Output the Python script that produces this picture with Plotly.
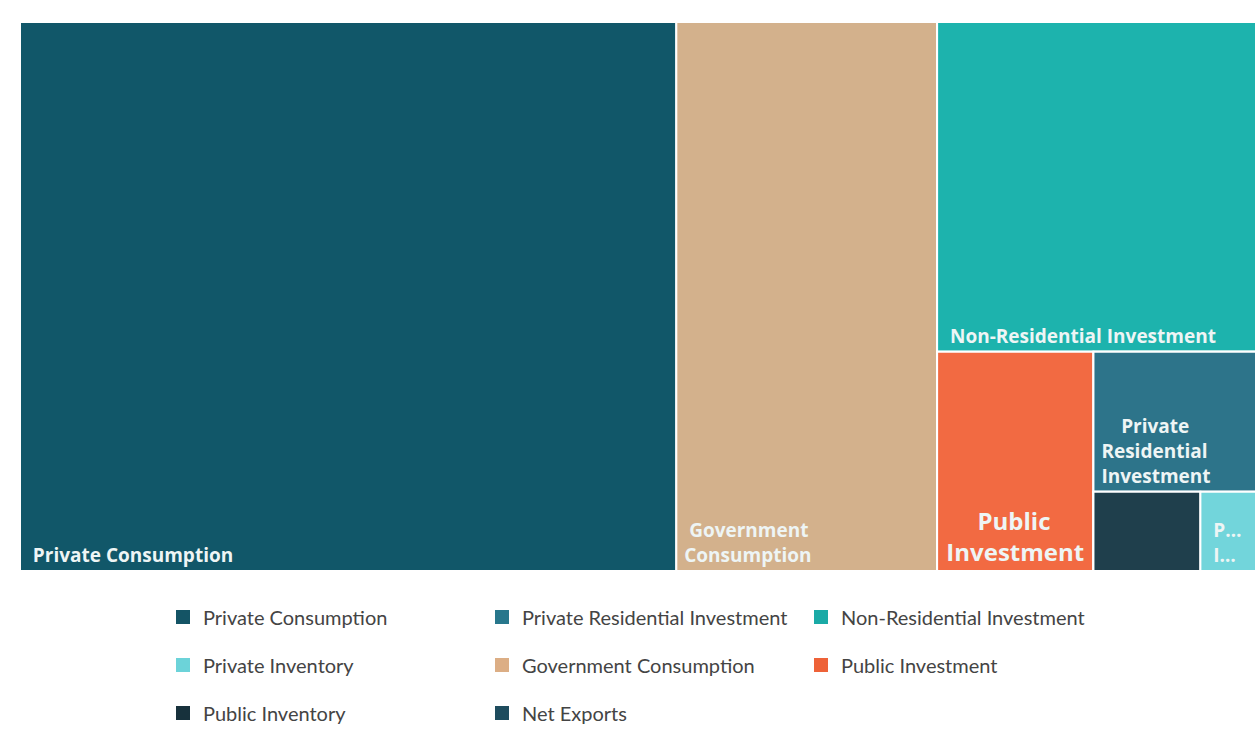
import plotly.graph_objects as go

# ---- data ----
sectors = ["Private Consumption", "Government Consumption", "Non-Residential Investment",
           "Public Investment", "Private Residential Investment", "Public Inventory",
           "Private Inventory"]
shares = [53.1, 21.1, 15.5, 5.05, 3.35, 1.25, 0.65]
NB = "\u00a0"
tile_text = [NB * 2 + "Private Consumption",
             NB * 2 + "Government<br>" + NB * 1 + "Consumption",
             NB * 2 + "Non-Residential Investment",
             NB * 6 + "Public<br>" + NB + "Investment",
             NB * 5 + "Private<br>" + NB + "Residential<br>" + NB + "Investment",
             "",
             NB * 2 + "P…<br>" + NB * 2 + "I…"]
tile_colors = ["#115769", "#d3b18c", "#1db3ad", "#f26a42", "#2d748a", "#1f3f4c", "#72d5db"]

# nesting used to reproduce the tile arrangement (invisible grouping nodes)
groups = ["g2", "g3", "g4", "g5"]
group_parents = ["", "g2", "g3", "g4"]
sector_parents = ["", "", "g2", "g3", "g4", "g5", "g5"]

legend_labels = ["Private Consumption", "Private Residential Investment", "Non-Residential Investment",
                 "Private Inventory", "Government Consumption", "Public Investment",
                 "Public Inventory", "Net Exports"]
legend_colors = ["#145465", "#28778c", "#1aaaa6", "#6cd3d9", "#dcae85", "#ee6238",
                 "#17313c", "#1e4c5e"]
legend_rows = ["legend", "legend", "legend", "legend2", "legend2", "legend2", "legend3", "legend3"]

# ---- figure ----
ids = sectors[:2] + ["g2"] + sectors[2:3] + ["g3"] + sectors[3:4] + ["g4"] + sectors[4:5] + ["g5"] + sectors[5:]
parents_map = dict(zip(sectors, sector_parents))
parents_map.update(dict(zip(groups, group_parents)))
val_map = dict(zip(sectors, shares))
txt_map = dict(zip(sectors, tile_text))
col_map = dict(zip(sectors, tile_colors))

fig = go.Figure()
fig.add_trace(go.Treemap(
    ids=ids,
    labels=[i if i in sectors else "" for i in ids],
    parents=[parents_map[i] for i in ids],
    values=[val_map.get(i, 0) for i in ids],
    text=[txt_map.get(i, "") for i in ids],
    textinfo="text",
    textposition="bottom left",
    textfont=dict(family="Open Sans", size=[24 if i == "Public Investment" else 19 for i in ids],
                  color="#eef5f5", weight="bold"),
    marker=dict(colors=[col_map.get(i, "#ffffff") for i in ids],
                line=dict(width=2, color="#ffffff"),
                pad=dict(t=0, l=0, r=0, b=0)),
    tiling=dict(packing="slice-dice", pad=0),
    pathbar=dict(visible=False),
    sort=False,
    hoverinfo="label+value",
    domain=dict(x=[20 / 1258, 1256 / 1258], y=[1 - 571 / 754, 1 - 22 / 754]),
))

for lab, col, lg in zip(legend_labels, legend_colors, legend_rows):
    fig.add_trace(go.Scatter(
        x=[None], y=[None], mode="markers", name=lab, legend=lg,
        marker=dict(symbol="square", size=14, color=col),
    ))

leg_common = dict(orientation="h", xanchor="left", yanchor="middle",
                  entrywidth=274, entrywidthmode="pixels",
                  font=dict(family="Lato", size=20, color="#444444"),
                  bgcolor="rgba(0,0,0,0)", itemclick=False, itemdoubleclick=False)

fig.update_layout(
    width=1258, height=754,
    margin=dict(l=0, r=0, t=0, b=0),
    paper_bgcolor="#ffffff", plot_bgcolor="#ffffff",
    xaxis=dict(visible=False), yaxis=dict(visible=False),
    legend=dict(x=163 / 1258, y=1 - 617 / 754, **leg_common),
    legend2=dict(x=163 / 1258, y=1 - 665 / 754, **leg_common),
    legend3=dict(x=163 / 1258, y=1 - 713 / 754, **leg_common),
)

fig.write_html("out.html")
